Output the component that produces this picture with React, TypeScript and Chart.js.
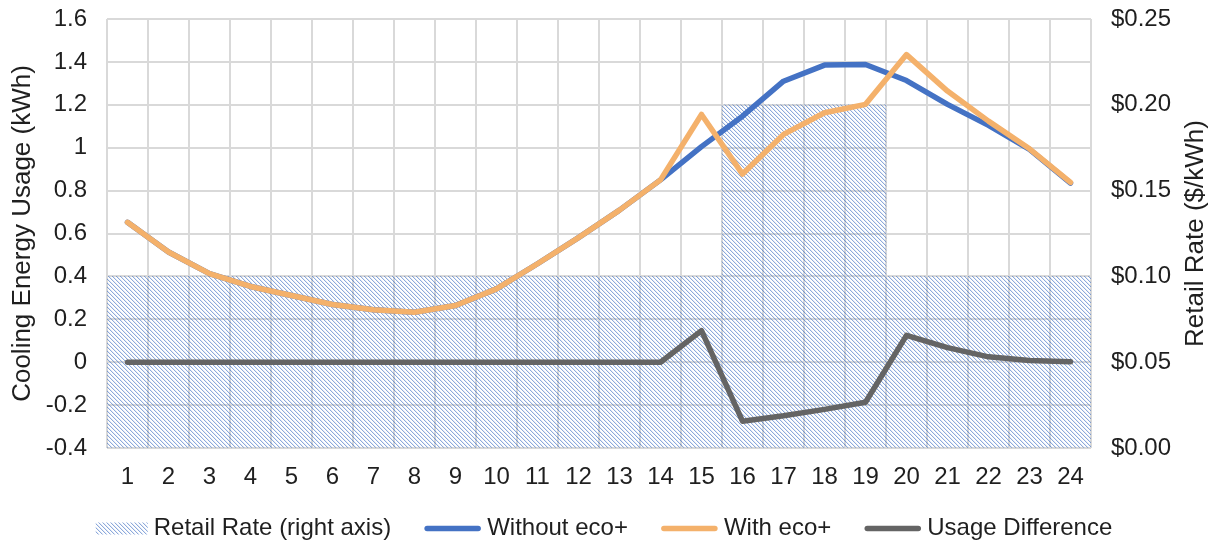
import { useEffect, useRef } from 'react';
import { Chart, registerables } from 'chart.js';

Chart.register(...registerables);

// Hour of day
const hours = ['1', '2', '3', '4', '5', '6', '7', '8', '9', '10', '11', '12',
  '13', '14', '15', '16', '17', '18', '19', '20', '21', '22', '23', '24'];

// Retail electricity rate ($/kWh), peak window 16–19
const retailRate = [0.1, 0.1, 0.1, 0.1, 0.1, 0.1, 0.1, 0.1, 0.1, 0.1, 0.1, 0.1,
  0.1, 0.1, 0.1, 0.2, 0.2, 0.2, 0.2, 0.1, 0.1, 0.1, 0.1, 0.1];

// Cooling energy usage (kWh)
const withoutEco = [0.652, 0.514, 0.413, 0.353, 0.311, 0.269, 0.245, 0.233, 0.264, 0.342, 0.459, 0.581,
  0.709, 0.85, 1.005, 1.147, 1.31, 1.385, 1.388, 1.313, 1.202, 1.104, 0.992, 0.835];
const withEco = [0.652, 0.514, 0.413, 0.353, 0.311, 0.269, 0.245, 0.233, 0.264, 0.342, 0.459, 0.581,
  0.709, 0.85, 1.155, 0.877, 1.062, 1.163, 1.202, 1.434, 1.264, 1.124, 0.995, 0.838];
const usageDifference = [0, 0, 0, 0, 0, 0, 0, 0, 0, 0, 0, 0,
  0, 0, 0.147, -0.275, -0.25, -0.22, -0.187, 0.125, 0.068, 0.025, 0.008, 0.002];

// Axis ranges
const usageAxis = { min: -0.4, max: 1.6, step: 0.2 };
const rateAxis = { min: 0, max: 0.25, step: 0.05 };

const FONT = '"Liberation Sans", Arial, sans-serif';
const TEXT = '#1f1f1f';
const GRID = '#D9D9D9';
const BLUE = '#4472C4';
const ORANGE = '#F4B16B';
const GRAY = '#646464';
const LINE_W = 5.5;

function makeHatch(): CanvasPattern | string {
  const tile = document.createElement('canvas');
  tile.width = 4;
  tile.height = 4;
  const c = tile.getContext('2d');
  if (!c) return 'rgba(68,114,196,0.3)';
  const img = c.createImageData(4, 4);
  for (let y = 0; y < 4; y++) {
    for (let x = 0; x < 4; x++) {
      const d = (((x - y) % 4) + 4) % 4;
      const a = d === 0 ? 155 : d === 1 ? 35 : 0;
      const i = (y * 4 + x) * 4;
      img.data[i] = 68;
      img.data[i + 1] = 114;
      img.data[i + 2] = 196;
      img.data[i + 3] = a;
    }
  }
  c.putImageData(img, 0, 0);
  return c.createPattern(tile, 'repeat') || 'rgba(68,114,196,0.3)';
}

// Right axis title (reads bottom-to-top) and the legend row
const overlayPlugin = {
  id: 'overlay',
  afterDraw(chart: any) {
    const ctx: CanvasRenderingContext2D = chart.ctx;
    const area = chart.chartArea;
    ctx.save();
    ctx.fillStyle = TEXT;
    ctx.textBaseline = 'middle';

    ctx.save();
    ctx.translate(chart.width - 17, (area.top + area.bottom) / 2);
    ctx.rotate(-Math.PI / 2);
    ctx.textAlign = 'center';
    ctx.font = `26px ${FONT}`;
    ctx.fillText('Retail Rate ($/kWh)', 0, 0);
    ctx.restore();

    ctx.font = `24px ${FONT}`;
    ctx.textAlign = 'left';
    const datasets = chart.data.datasets;
    const markerW = (ds: any) => (ds.type === 'line' ? 57 : 52);
    const gap = 6;
    const itemGap = 33;
    const widths = datasets.map((ds: any) => markerW(ds) + gap + ctx.measureText(ds.label).width);
    const total = widths.reduce((a: number, b: number) => a + b, 0) + itemGap * (datasets.length - 1);
    let x = 604 - total / 2;
    const cy = 528.5;
    datasets.forEach((ds: any, i: number) => {
      if (ds.type === 'line') {
        ctx.strokeStyle = ds.borderColor;
        ctx.lineWidth = LINE_W;
        ctx.lineCap = 'round';
        ctx.beginPath();
        ctx.moveTo(x + 3, cy);
        ctx.lineTo(x + 57 - 3, cy);
        ctx.stroke();
      } else {
        ctx.fillStyle = ds.backgroundColor;
        ctx.fillRect(x, cy - 6, 52, 12);
      }
      ctx.fillStyle = TEXT;
      ctx.fillText(ds.label, x + markerW(ds) + gap, cy);
      x += widths[i] + itemGap;
    });
    ctx.restore();
  },
};

const lineStyle = {
  type: 'line',
  yAxisID: 'y',
  borderWidth: LINE_W,
  pointRadius: 0,
  tension: 0,
  fill: false,
  borderCapStyle: 'round',
  borderJoinStyle: 'round',
};

// Fixed axis widths; tick-label overhang must not push the plot area
const fixWidth = (w: number) => (s: any) => {
  s.width = w;
  s.paddingTop = 0;
  s.paddingBottom = 0;
};

export default function App() {
  const canvasRef = useRef<HTMLCanvasElement | null>(null);

  useEffect(() => {
    const canvas = canvasRef.current;
    if (!canvas) return;
    const hatch = makeHatch();
    const tickFont = { family: FONT, size: 24 };

    const chart = new Chart(canvas, {
      type: 'bar',
      data: {
        labels: hours,
        datasets: [
          {
            type: 'bar',
            label: 'Retail Rate (right axis)',
            data: retailRate,
            yAxisID: 'y1',
            backgroundColor: hatch as any,
            borderWidth: 0,
            barPercentage: 1,
            categoryPercentage: 1,
            order: 4,
          },
          { ...lineStyle, label: 'Without eco+', data: withoutEco, borderColor: BLUE, backgroundColor: BLUE, order: 3 },
          { ...lineStyle, label: 'With eco+', data: withEco, borderColor: ORANGE, backgroundColor: ORANGE, order: 2 },
          { ...lineStyle, label: 'Usage Difference', data: usageDifference, borderColor: GRAY, backgroundColor: GRAY, order: 1 },
        ] as any,
      },
      options: {
        responsive: false,
        animation: false,
        devicePixelRatio: 1,
        layout: { padding: { top: 19, left: 0, right: 0, bottom: 0 } },
        plugins: {
          legend: { display: false },
          tooltip: { enabled: false },
        },
        scales: {
          x: {
            offset: true,
            grid: { color: GRID, lineWidth: 2, drawTicks: false, offset: true },
            border: { display: false },
            ticks: { color: TEXT, font: tickFont, padding: 15, maxRotation: 0, autoSkip: false },
            afterFit: (s: any) => { s.height = 96; },
          },
          y: {
            position: 'left',
            min: usageAxis.min,
            max: usageAxis.max,
            grid: { color: GRID, lineWidth: 2, drawTicks: false },
            border: { display: false },
            ticks: {
              stepSize: usageAxis.step,
              color: TEXT,
              font: tickFont,
              padding: 20,
              callback: (v: any) => String(Number(Number(v).toFixed(1))),
            },
            title: {
              display: true,
              text: 'Cooling Energy Usage (kWh)',
              color: TEXT,
              font: { family: FONT, size: 26 },
              padding: { top: 7, bottom: 0 },
            },
            afterFit: fixWidth(107),
          },
          y1: {
            position: 'right',
            min: rateAxis.min,
            max: rateAxis.max,
            grid: { drawOnChartArea: false, drawTicks: false },
            border: { display: false },
            ticks: {
              stepSize: rateAxis.step,
              color: TEXT,
              font: tickFont,
              padding: 20,
              callback: (v: any) => '$' + Number(v).toFixed(2),
            },
            afterFit: fixWidth(122),
          },
        },
      } as any,
      plugins: [overlayPlugin],
    });

    return () => chart.destroy();
  }, []);

  return (
    <div style={{ position: 'absolute', left: 0, top: 0, width: 1213, height: 544, background: '#fff' }}>
      <canvas ref={canvasRef} width={1213} height={544} style={{ display: 'block' }} />
    </div>
  );
}
